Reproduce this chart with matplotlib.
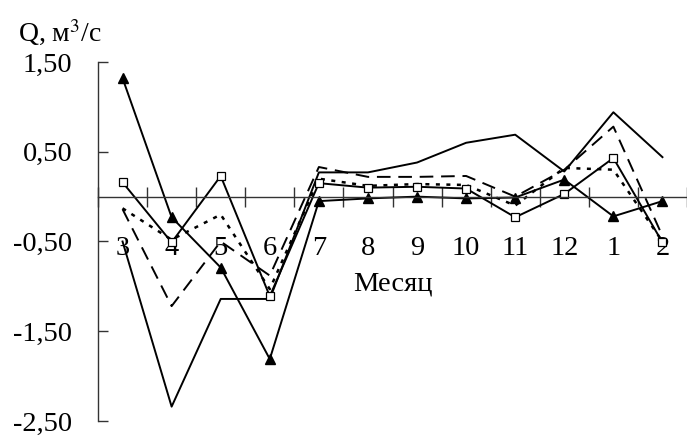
import numpy as np
import matplotlib.pyplot as plt

plt.rcParams['font.family'] = ['Liberation Serif', 'DejaVu Serif']
plt.rcParams['mathtext.fontset'] = 'stix'

# months of the hydrological year, march to february
months = ['3', '4', '5', '6', '7', '8', '9', '10', '11', '12', '1', '2']

# discharge anomalies, m3/s
q_triangles = [1.32, -0.23, -0.79, -1.81, -0.05, -0.02, 0.00, -0.02, -0.01, 0.19, -0.22, -0.05]
q_squares = [0.16, -0.51, 0.23, -1.11, 0.15, 0.10, 0.11, 0.09, -0.23, 0.03, 0.43, -0.51]
q_solid = [-0.50, -2.34, -1.14, -1.14, 0.27, 0.27, 0.38, 0.60, 0.69, 0.28, 0.94, 0.44]
q_dashed = [-0.14, -1.22, -0.50, -0.88, 0.33, 0.22, 0.22, 0.23, 0.00, 0.30, 0.78, -0.44]
q_dotted = [-0.13, -0.48, -0.20, -1.03, 0.20, 0.12, 0.14, 0.13, -0.10, 0.32, 0.30, -0.50]

yticks = [1.5, 0.5, -0.5, -1.5, -2.5]
ytick_labels = ['1,50', '0,50', '-0,50', '-1,50', '-2,50']

fig = plt.figure(figsize=(6.87, 4.36), dpi=100)
ax = fig.add_axes([98 / 687, 15 / 436, 589 / 687, 359 / 436])

x = np.arange(len(months)) + 0.5
lw = 1.4
ax.plot(x, q_solid, color='black', lw=lw)
ax.plot(x, q_dashed, color='black', lw=lw, linestyle=(0, (7, 4)))
ax.plot(x, q_dotted, color='black', lw=lw + 0.4, linestyle=(0, (1.6, 2.6)))
ax.plot(x, q_squares, color='black', lw=lw, marker='s', markersize=5.5,
        markerfacecolor='white', markeredgewidth=0.9)
ax.plot(x, q_triangles, color='black', lw=lw, marker='^', markersize=6.5)

ax.set_xlim(0, len(months))
ax.set_ylim(-2.5, 1.5)

for s in ['top', 'right']:
    ax.spines[s].set_visible(False)
ax.spines['bottom'].set_position(('data', 0))
ax.spines['bottom'].set_color('#333333')
ax.spines['left'].set_color('#333333')
ax.spines['bottom'].set_linewidth(1.0)
ax.spines['left'].set_linewidth(1.0)

# boundaries between months carry the tick marks, labels sit in the middle
ax.set_xticks(np.arange(len(months) + 1))
ax.set_xticklabels([])
ax.tick_params(axis='x', which='major', direction='inout', length=14.4,
               width=1.0, color='#333333')
ax.set_xticks(x, minor=True)
ax.set_xticklabels(months, minor=True)
ax.tick_params(axis='x', which='minor', length=0, pad=28, labelsize=20.5)

ax.set_yticks(yticks)
ax.set_yticklabels(ytick_labels)
ax.tick_params(axis='y', direction='in', length=7.2, width=1.0,
               color='#333333', pad=18.5, labelsize=20.5)

ax.set_xlabel('Месяц', fontsize=20.5, labelpad=8)
fig.text(18 / 687, 1 - 33 / 436, 'Q, м$^3$/с', fontsize=20, va='center', ha='left')

fig.savefig('out.png', dpi=100)
